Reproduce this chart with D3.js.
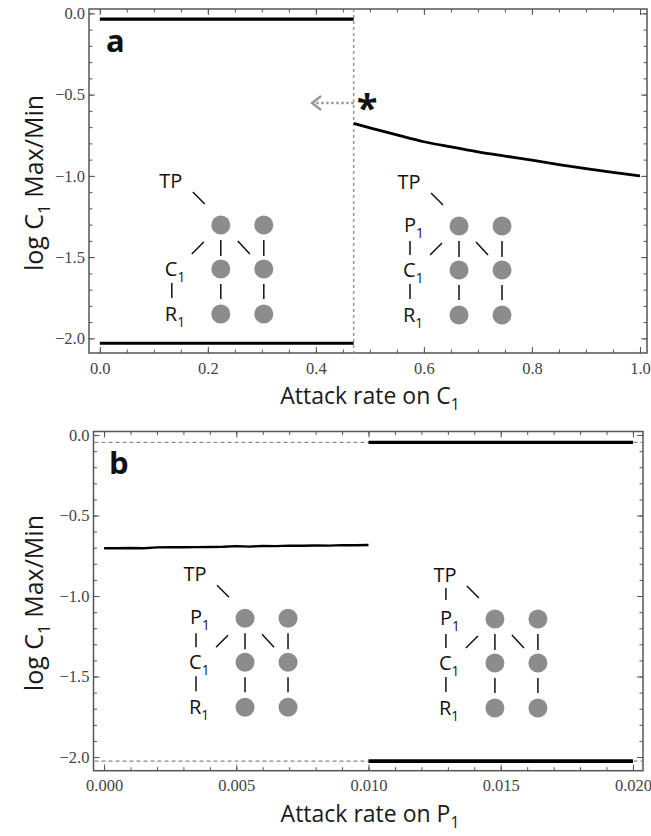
<!DOCTYPE html>
<html>
<head>
<meta charset="utf-8">
<script src="https://cdn.jsdelivr.net/npm/d3@7"></script>
<style>
  body { margin: 0; background: #fff; }
  svg { display: block; }
</style>
</head>
<body>
<script>
// ---- panel a data ----
var aXTicks = [0, 0.2, 0.4, 0.6, 0.8, 1.0];
var aYTicks = [0, -0.5, -1.0, -1.5, -2.0];
var aSwitch = 0.47;
var aFlatX = [0, 0.47];
var aUpperY = [-0.035, -0.035];
var aLowerY = [-2.03, -2.03];
var aCurveX = [0.47, 0.50, 0.55, 0.60, 0.65, 0.70, 0.75, 0.80, 0.85, 0.90, 0.95, 1.00];
var aCurveY = [-0.677, -0.704, -0.748, -0.790, -0.822, -0.852, -0.878, -0.903, -0.930, -0.955, -0.978, -1.000];

// ---- panel b data ----
var bXTicks = [0, 0.005, 0.010, 0.015, 0.020];
var bYTicks = [0, -0.5, -1.0, -1.5, -2.0];
var bSwitch = 0.010;
var bDashY = [-0.045, -2.025];
var bFlatX = [0.010, 0.020];
var bUpperY = [-0.045, -0.045];
var bLowerY = [-2.025, -2.025];
var bMidX = [0, 0.0005, 0.0010, 0.0015, 0.0020, 0.0025, 0.0030, 0.0035, 0.0040, 0.0045, 0.0050,
             0.0055, 0.0060, 0.0065, 0.0070, 0.0075, 0.0080, 0.0085, 0.0090, 0.0095, 0.0100];
var bMidY = [-0.703, -0.703, -0.702, -0.703, -0.698, -0.697, -0.697, -0.696, -0.695, -0.694, -0.690,
             -0.693, -0.689, -0.690, -0.687, -0.688, -0.686, -0.687, -0.684, -0.685, -0.683];

var SANS = "'Open Sans', 'Noto Sans', sans-serif";
var SERIF = "Liberation Serif, DejaVu Serif, serif";

var svg = d3.select("body").append("svg")
    .attr("width", 651)
    .attr("height", 836);

// panel boxes (pixel frame) and data domains
var panelA = {
    x: d3.scaleLinear().domain([-0.02, 1.013]).range([89, 647]),
    y: d3.scaleLinear().domain([0.027, -2.09]).range([9, 353]),
    xMajor: aXTicks, xMinor: d3.range(0, 1.0001, 0.05),
    xFmt: d3.format(".1f")
};
var panelB = {
    x: d3.scaleLinear().domain([-0.0004, 0.02038]).range([93.5, 643]),
    y: d3.scaleLinear().domain([0.022, -2.085]).range([431.5, 770.7]),
    xMajor: bXTicks, xMinor: d3.range(0, 0.02001, 0.001),
    xFmt: d3.format(".3f")
};
var yMinor = d3.range(0, -2.0001, -0.1);
var yFmt = function (d) { return d3.format(".1f")(d).replace("-", "\u2212"); };

function drawFrame(p, yMajor) {
    var x = p.x, y = p.y;
    var x0 = x.range()[0], x1 = x.range()[1];
    var y0 = y.range()[0], y1 = y.range()[1];
    var g = svg.append("g");

    // minor ticks on four sides
    g.append("g").attr("transform", `translate(0,${y1})`)
        .call(d3.axisBottom(x).tickValues(p.xMinor).tickSize(-3.5).tickFormat(""));
    g.append("g").attr("transform", `translate(0,${y0})`)
        .call(d3.axisTop(x).tickValues(p.xMinor).tickSize(-3.5).tickFormat(""));
    g.append("g").attr("transform", `translate(${x0},0)`)
        .call(d3.axisLeft(y).tickValues(yMinor).tickSize(-3.5).tickFormat(""));
    g.append("g").attr("transform", `translate(${x1},0)`)
        .call(d3.axisRight(y).tickValues(yMinor).tickSize(-3.5).tickFormat(""));

    // major ticks with labels
    g.append("g").attr("transform", `translate(0,${y1})`)
        .call(d3.axisBottom(x).tickValues(p.xMajor).tickSize(-6).tickPadding(9).tickFormat(p.xFmt));
    g.append("g").attr("transform", `translate(0,${y0})`)
        .call(d3.axisTop(x).tickValues(p.xMajor).tickSize(-6).tickFormat(""));
    g.append("g").attr("transform", `translate(${x0},0)`)
        .call(d3.axisLeft(y).tickValues(yMajor).tickSize(-6).tickPadding(4).tickFormat(yFmt));
    g.append("g").attr("transform", `translate(${x1},0)`)
        .call(d3.axisRight(y).tickValues(yMajor).tickSize(-6).tickFormat(""));

    g.selectAll(".domain").remove();
    g.selectAll(".tick line").attr("stroke", "#555");
    g.selectAll(".tick text")
        .attr("font-family", SERIF)
        .attr("font-size", 16.5)
        .attr("fill", "#444");

    g.append("rect")
        .attr("x", x0).attr("y", y0)
        .attr("width", x1 - x0).attr("height", y1 - y0)
        .attr("fill", "none")
        .attr("stroke", "#555")
        .attr("stroke-width", 1.5);
}

function subText(sel, main, sub, size, color) {
    sel.append("tspan").attr("fill", color).text(main);
    sel.append("tspan")
        .attr("fill", color)
        .attr("font-size", size * 0.68)
        .attr("dy", size * 0.28)
        .text(sub);
}

function axisTitles(p, xMain, xSub) {
    var y0 = p.y.range()[0], y1 = p.y.range()[1];
    var t = svg.append("text")
        .attr("font-family", SANS)
        .attr("x", 370).attr("y", y1 + 51)
        .attr("text-anchor", "middle")
        .attr("font-size", 23);
    subText(t, xMain, xSub, 23, "#1a1a1a");

    var ty = svg.append("text")
        .attr("font-family", SANS)
        .attr("transform", `translate(43, ${(y0 + y1) / 2 + 2}) rotate(-90)`)
        .attr("text-anchor", "middle")
        .attr("font-size", 25);
    ty.append("tspan").attr("fill", "#1a1a1a").text("log C");
    ty.append("tspan").attr("fill", "#1a1a1a").attr("font-size", 17).attr("dy", 7).text("1");
    ty.append("tspan").attr("fill", "#1a1a1a").attr("dy", -7).text(" Max/Min");
}

// food web sketch; anchor is the top-left circle centre
function foodWeb(cx, cy, hasP, tpLink) {
    var g = svg.append("g")
        .attr("transform", `translate(${cx},${cy})`)
        .attr("font-family", SANS)
        .attr("font-size", 20);
    var cols = [0, 43];
    var rows = [0, 44, 89];
    cols.forEach(function (c) {
        rows.forEach(function (r) {
            g.append("circle").attr("cx", c).attr("cy", r).attr("r", 9.5).attr("fill", "#8c8c8c");
        });
    });
    var segs = [
        [-28, -33, -16, -21],   // TP to web
        [-17, 17, -29, 29],     // web to C1
        [0, 15, 0, 31],
        [17, 16, 29, 29],
        [43, 15, 43, 31],
        [0, 59, 0, 74],
        [43, 59, 43, 74],
        [-49, 58, -49, 73]      // C1 - R1
    ];
    if (hasP) segs.push([-49, 15, -49, 29]);
    if (tpLink) segs.push([-49, -31, -49, -19]);
    g.selectAll("line.s").data(segs).enter().append("line")
        .attr("x1", d => d[0]).attr("y1", d => d[1])
        .attr("x2", d => d[2]).attr("y2", d => d[3])
        .attr("stroke", "#111").attr("stroke-width", 1.5);

    g.append("text").attr("x", -50).attr("y", -37).attr("text-anchor", "middle")
        .attr("fill", "#111").text("TP");
    if (hasP) subText(g.append("text").attr("x", -55).attr("y", 6), "P", "1", 20, "#111");
    subText(g.append("text").attr("x", -56).attr("y", 51), "C", "1", 20, "#111");
    subText(g.append("text").attr("x", -56).attr("y", 96), "R", "1", 20, "#111");
}

var line = d3.line();

// ---------------- panel a ----------------
(function () {
    var x = panelA.x, y = panelA.y;
    drawFrame(panelA, aYTicks);

    svg.append("line")
        .attr("x1", x(aSwitch)).attr("x2", x(aSwitch))
        .attr("y1", y.range()[0]).attr("y2", y.range()[1])
        .attr("stroke", "#999").attr("stroke-width", 1.5).attr("stroke-dasharray", "3,3");

    [aUpperY, aLowerY].forEach(function (ys) {
        svg.append("path")
            .attr("d", line(aFlatX.map((v, i) => [x(v), y(ys[i])])))
            .attr("fill", "none").attr("stroke", "#000").attr("stroke-width", 3.2);
    });
    svg.append("path")
        .attr("d", d3.line().curve(d3.curveMonotoneX)(aCurveX.map((v, i) => [x(v), y(aCurveY[i])])))
        .attr("fill", "none").attr("stroke", "#000").attr("stroke-width", 2.8);

    // asterisk + dotted arrow
    var ay = y(-0.552);
    svg.append("line")
        .attr("x1", x(aSwitch)).attr("x2", x(0.397))
        .attr("y1", ay).attr("y2", ay)
        .attr("stroke", "#999").attr("stroke-width", 2.5).attr("stroke-dasharray", "2.5,2.5");
    var tip = x(0.393);
    svg.append("path")
        .attr("d", `M${tip + 9},${ay - 7} L${tip},${ay} L${tip + 9},${ay + 7}`)
        .attr("fill", "none").attr("stroke", "#999").attr("stroke-width", 2.5);
    svg.append("text")
        .attr("x", x(0.495)).attr("y", ay + 19)
        .attr("text-anchor", "middle")
        .attr("font-family", SANS)
        .attr("font-weight", "bold")
        .attr("font-size", 38).attr("fill", "#111")
        .text("*");

    svg.append("text")
        .attr("font-family", SANS).attr("fill", "#111")
        .attr("x", 106).attr("y", 52)
        .attr("font-size", 31).attr("font-weight", "bold")
        .text("a");

    foodWeb(x(0.224), y(-1.302), false, false);
    foodWeb(x(0.665), y(-1.308), true, false);
    axisTitles(panelA, "Attack rate on C", "1");
})();

// ---------------- panel b ----------------
(function () {
    var x = panelB.x, y = panelB.y;
    drawFrame(panelB, bYTicks);

    bDashY.forEach(function (v) {
        svg.append("line")
            .attr("x1", x.range()[0] + 1).attr("x2", x.range()[1] - 1)
            .attr("y1", y(v)).attr("y2", y(v))
            .attr("stroke", "#888").attr("stroke-width", 1.3).attr("stroke-dasharray", "4,3");
    });
    svg.append("path")
        .attr("d", line(bFlatX.map((v, i) => [x(v), y(bUpperY[i])])))
        .attr("fill", "none").attr("stroke", "#000").attr("stroke-width", 3.2);
    svg.append("path")
        .attr("d", line(bFlatX.map((v, i) => [x(v), y(bLowerY[i])])))
        .attr("fill", "none").attr("stroke", "#000").attr("stroke-width", 3.8);
    svg.append("path")
        .attr("d", line(bMidX.map((v, i) => [x(v), y(bMidY[i])])))
        .attr("fill", "none").attr("stroke", "#000").attr("stroke-width", 2.4);

    svg.append("text")
        .attr("font-family", SANS).attr("fill", "#111")
        .attr("x", 109).attr("y", 474)
        .attr("font-size", 31).attr("font-weight", "bold")
        .text("b");

    foodWeb(x(0.00533), y(-1.138), true, false);
    foodWeb(x(0.01478), y(-1.143), true, true);
    axisTitles(panelB, "Attack rate on P", "1");
})();
</script>
</body>
</html>
